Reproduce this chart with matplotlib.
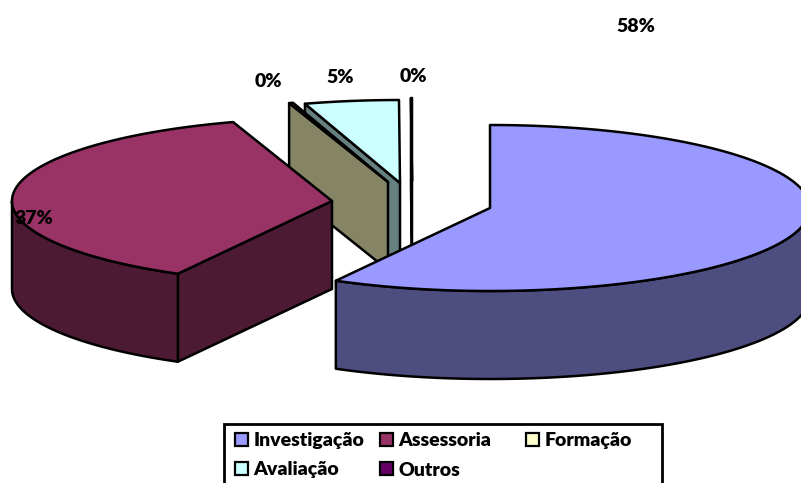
import numpy as np
import matplotlib
matplotlib.use('Agg')
import matplotlib.pyplot as plt
from matplotlib.patches import Polygon, Rectangle

categories = ['Investigação', 'Assessoria', 'Formação', 'Avaliação', 'Outros']
values = [58.0, 37.0, 0.2, 4.75, 0.05]
pct_labels = ['58%', '37%', '0%', '5%', '0%']

top_colors = ['#9999FF', '#993366', '#FFFFCC', '#CCFFFF', '#660066']
side_colors = ['#4D4D80', '#4D1A33', '#858566', '#668080', '#330033']

# where each exploded slice has its tip, and where its label goes (pixels)
tips = [(490, 208), (332, 201), (388, 182), (400, 183), (412, 181)]
label_pos = [(636, 32), (34, 224), (268, 87), (340, 83), (413, 82)]

RX, RY = 320, 83
DEPTH = 88
LW = 1.8

plt.rcParams['font.family'] = ['Lato', 'DejaVu Sans']

fig = plt.figure(figsize=(8.01, 4.83), dpi=100)
ax = fig.add_axes([0, 0, 1, 1])
ax.set_xlim(0, 801)
ax.set_ylim(483, 0)
ax.axis('off')


def rim(tip, a0, a1, n=120):
    # a = degrees clockwise from the top of the pie
    a = np.radians(np.linspace(a0, a1, n))
    return np.column_stack([tip[0] + RX * np.sin(a), tip[1] - RY * np.cos(a)])


def draw_slice(tip, a0, a1, top, side):
    tip = np.array(tip, dtype=float)
    down = np.array([0, DEPTH])
    # flat faces left by the cut
    for a, visible in ((a0, 180 < a0 < 360), (a1, 0 < a1 < 180)):
        if visible:
            p = rim(tip, a, a, 1)[0]
            ax.add_patch(Polygon([tip, p, p + down, tip + down], closed=True,
                                 fc=side, ec='black', lw=LW, joinstyle='round'))
    # curved wall, front half only
    lo, hi = max(a0, 90), min(a1, 270)
    if lo < hi:
        r = rim(tip, lo, hi)
        ax.add_patch(Polygon(np.vstack([r, (r + down)[::-1]]), closed=True,
                             fc=side, ec='black', lw=LW, joinstyle='round'))
    ax.add_patch(Polygon(np.vstack([tip, rim(tip, a0, a1)]), closed=True,
                         fc=top, ec='black', lw=LW, joinstyle='round'))


edges = np.cumsum([0] + values) * 3.6
for i in [4, 3, 2, 1, 0]:
    draw_slice(tips[i], edges[i], edges[i + 1], top_colors[i], side_colors[i])

for s, (x, y) in zip(pct_labels, label_pos):
    ax.text(x, y, s, ha='center', va='baseline', fontsize=14, fontweight='heavy',
            color='black')

# legend box runs off the bottom of the picture
ax.add_patch(Rectangle((224, 424), 438, 70, fc='white', ec='black', lw=2))
col_x = [235, 380, 526]
swatch_y = [432.5, 462]
text_y = [446, 475.5]
for i, name in enumerate(categories):
    x = col_x[i % 3]
    ax.add_patch(Rectangle((x, swatch_y[i // 3]), 13, 13, fc=top_colors[i], ec='black', lw=1.6))
    ax.text(x + 18.5, text_y[i // 3], name, ha='left', va='baseline', fontsize=14,
            fontweight='heavy', color='black')

fig.savefig('out.png', dpi=100)
